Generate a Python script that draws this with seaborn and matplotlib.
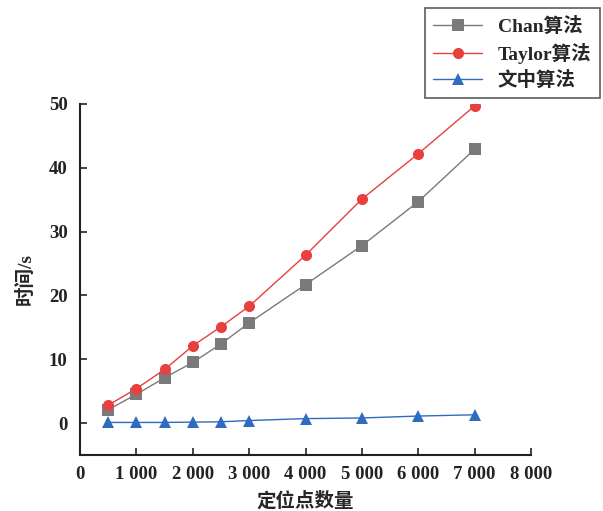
import matplotlib
matplotlib.use('Agg')
import matplotlib.pyplot as plt
import seaborn as sns
import pandas as pd

# data
points = [500, 1000, 1500, 2000, 2500, 3000, 4000, 5000, 6000, 7000]
chan = [2.1, 4.5, 7.1, 9.5, 12.4, 15.7, 21.7, 27.8, 34.7, 42.9]
taylor = [2.8, 5.4, 8.4, 12.1, 15.1, 18.3, 26.3, 35.1, 42.2, 49.7]
ours = [0.1, 0.1, 0.1, 0.15, 0.2, 0.4, 0.7, 0.8, 1.1, 1.3]
series_names = ['Chan算法', 'Taylor算法', '文中算法']
x_ticks = [0, 1000, 2000, 3000, 4000, 5000, 6000, 7000, 8000]
x_tick_labels = ['0', '1 000', '2 000', '3 000', '4 000', '5 000', '6 000', '7 000', '8 000']
y_ticks = [0, 10, 20, 30, 40, 50]

sns.set_style('ticks')
plt.rcParams['font.family'] = ['Liberation Serif', 'Noto Sans CJK SC']
plt.rcParams['font.weight'] = 'bold'

df = pd.DataFrame({
    'x': points * 3,
    'y': chan + taylor + ours,
    'name': [series_names[0]] * len(points) + [series_names[1]] * len(points) + [series_names[2]] * len(points),
})

colors = {'Chan算法': '#7a7a7a', 'Taylor算法': '#e8403f', '文中算法': '#2f6cc0'}
markers = {'Chan算法': 's', 'Taylor算法': 'o', '文中算法': '^'}

fig = plt.figure(figsize=(6.03, 5.11), dpi=100)
ax = fig.add_axes([0.1327, 0.1096, 0.748, 0.687])
sns.lineplot(data=df, x='x', y='y', hue='name', style='name', palette=colors,
             markers=markers, dashes=False, markersize=8, linewidth=1,
             markeredgewidth=0, ax=ax, legend=False)

ax.set_xlim(0, 8000)
ax.set_ylim(-5, 50)
ax.set_xticks(x_ticks)
ax.set_xticklabels(x_tick_labels)
ax.set_yticks(y_ticks)
ax.tick_params(direction='in', length=5, width=1.2, labelsize=13.5, colors='#222222')
ax.tick_params(axis='x', pad=8)
ax.tick_params(axis='y', pad=9)
for s in ['left', 'bottom']:
    ax.spines[s].set_linewidth(1.5)
    ax.spines[s].set_color('#222222')
sns.despine(ax=ax)
ax.set_xlabel('定位点数量', fontsize=14, fontweight='bold', labelpad=6)
ax.set_ylabel('时间/s', fontsize=14, fontweight='bold', labelpad=10)

handles = [plt.Line2D([], [], color=colors[n], marker=markers[n], markersize=8,
                      markeredgewidth=0, linewidth=1) for n in series_names]
leg = fig.legend(handles, series_names, loc='upper right', bbox_to_anchor=(0.995, 0.984),
                 borderaxespad=0, fontsize=14, frameon=True, fancybox=False,
                 edgecolor='#333333', handlelength=2.5, borderpad=0.45, labelspacing=0.35)
leg.get_frame().set_linewidth(1.2)

fig.savefig('out.png', dpi=100)
